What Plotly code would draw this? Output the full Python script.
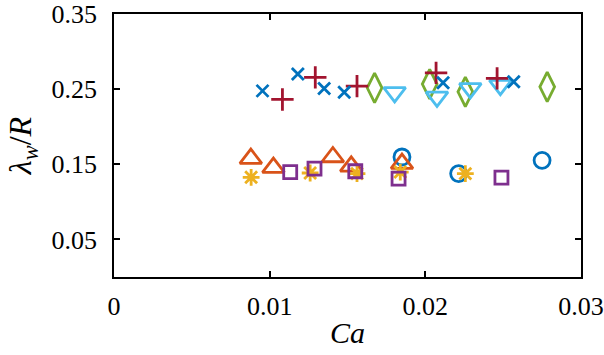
import plotly.graph_objects as go

# Data
circ_x = [0.01850, 0.02214, 0.02750]
circ_y = [0.1597, 0.1376, 0.1553]

tri_up_x = [0.00879, 0.01024, 0.01406, 0.01524, 0.01850]
tri_up_y = [0.1576, 0.1456, 0.1597, 0.1473, 0.1509]

ast_x = [0.00881, 0.01260, 0.01561, 0.01839, 0.02257]
ast_y = [0.1327, 0.1384, 0.1376, 0.1397, 0.1376]

sq_x = [0.01132, 0.01288, 0.01550, 0.01828, 0.02489]
sq_y = [0.1397, 0.1443, 0.1407, 0.1309, 0.1323]

dia_x = [0.01674, 0.02028, 0.02257, 0.02783]
dia_y = [0.2517, 0.2567, 0.2464, 0.2531]

tri_dn_x = [0.01803, 0.02075, 0.02289, 0.02482]
tri_dn_y = [0.2456, 0.2397, 0.2509, 0.2553]

plus_x = [0.01082, 0.01293, 0.01561, 0.02069, 0.02461]
plus_y = [0.2363, 0.2656, 0.2540, 0.2717, 0.2643]

xm_x = [0.00954, 0.01181, 0.01350, 0.01479, 0.02114, 0.02568]
xm_y = [0.2477, 0.2700, 0.2509, 0.2460, 0.2584, 0.2597]

x_ticks = [0, 0.01, 0.02, 0.03]
x_tick_text = ["0", "0.01", "0.02", "0.03"]
y_ticks = [0.05, 0.15, 0.25, 0.35]
y_tick_text = ["0.05", "0.15", "0.25", "0.35"]

series = [
    (circ_x, circ_y, "circle-open", 16, "#0072BD"),
    (tri_up_x, tri_up_y, "triangle-up-open", 19, "#D95319"),
    (ast_x, ast_y, "asterisk-open", 14, "#EDB120"),
    (sq_x, sq_y, "square-open", 13, "#7E2F8E"),
    (dia_x, dia_y, "diamond-tall-open", 21, "#77AC30"),
    (tri_dn_x, tri_dn_y, "triangle-down-open", 19, "#4DBEEE"),
    (plus_x, plus_y, "cross-thin-open", 16, "#A2142F"),
    (xm_x, xm_y, "x-thin-open", 12, "#0072BD"),
]

fig = go.Figure()
for xs, ys, sym, sz, col in series:
    fig.add_trace(go.Scatter(
        x=xs, y=ys, mode="markers",
        marker=dict(symbol=sym, size=sz, color=col,
                    line=dict(color=col, width=2.8)),
        showlegend=False,
    ))

axis_common = dict(
    showline=True, linecolor="black", linewidth=1.5, mirror="ticks",
    ticks="inside", ticklen=6, tickwidth=1.5, tickcolor="black",
    showgrid=False, zeroline=False, automargin=False,
    tickfont=dict(family="Liberation Serif", size=26, color="black"),
)

fig.update_xaxes(
    range=[0, 0.03], tickvals=x_ticks, ticktext=x_tick_text,
    title=dict(text="<i>Ca</i>", font=dict(family="Liberation Serif", size=30, color="black"), standoff=2),
    ticklabelstandoff=5,
    **axis_common,
)
fig.update_yaxes(
    range=[0, 0.35], tickvals=y_ticks, ticktext=y_tick_text,
    title=dict(text="<i>λ</i><sub><i>w</i></sub>/<i>R</i>", font=dict(family="Liberation Serif", size=32, color="black"), standoff=10),
    ticklabelstandoff=10,
    **axis_common,
)

fig.update_layout(
    width=604, height=355,
    margin=dict(l=114, r=23, t=14, b=78),
    paper_bgcolor="white", plot_bgcolor="white",
)

fig.write_html(
    "out.html",
    config={"displayModeBar": False},
    post_script="document.body.style.margin='0';document.body.style.overflow='hidden';",
)
